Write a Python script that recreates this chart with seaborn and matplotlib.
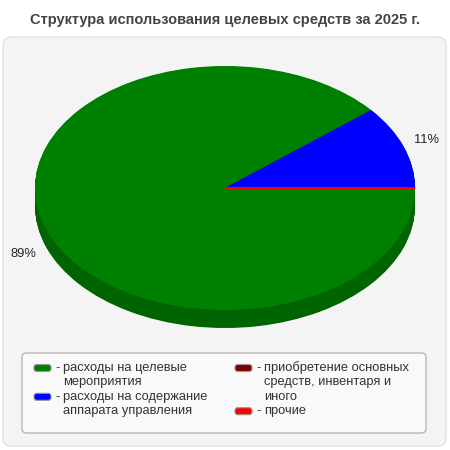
import numpy as np
import matplotlib
matplotlib.use("Agg")
import matplotlib.pyplot as plt
import seaborn as sns
from matplotlib.patches import FancyBboxPatch
from matplotlib.colors import to_rgb

# ---------------------------------------------------------
# Data
# ---------------------------------------------------------
title = "Структура использования целевых средств за 2025 г."

categories = [
    "расходы на целевые\nмероприятия",
    "расходы на содержание\nаппарата управления",
    "приобретение основных\nсредств, инвентаря и\nиного",
    "прочие",
]
shares = [89.0, 11.0, 0.01, 0.03]
colors = ["#008000", "#0000ff", "#800000", "#ff0000"]

sns.set_style("white")
plt.rcParams["font.family"] = ["Liberation Sans", "DejaVu Sans"]

W = H = 450
fig = plt.figure(figsize=(4.5, 4.5), dpi=100)
fig.patch.set_facecolor("white")


def fx(x):
    return x / W


def fy(y):
    return 1 - y / H


# panel
panel = FancyBboxPatch((fx(3), fy(446)), fx(443), 409 / H,
                       boxstyle="round,pad=0,rounding_size=0.018",
                       transform=fig.transFigure, facecolor="#f4f4f4",
                       edgecolor="#e2e2e2", linewidth=1, zorder=-10)
fig.patches.append(panel)

fig.text(0.5, fy(20), title, ha="center", va="center",
         fontsize=10.5, fontweight="bold", color="#444444")

# ---------------------------------------------------------
# Pie (pseudo 3D)
# ---------------------------------------------------------
cx_l, cx_r = 35, 415
top_y, bot_y, depth_px = 66, 310, 18
ry_px = (bot_y - top_y) / 2
depth = depth_px / ry_px

ax = fig.add_axes([fx(cx_l), fy(bot_y + depth_px), (cx_r - cx_l) / W,
                   (bot_y + depth_px - top_y) / H])
ax.patch.set_alpha(0)


def darker(c, f=0.78):
    r, g, b = to_rgb(c)
    return (r * f, g * f, b * f)


side_colors = [darker(c) for c in colors]
for t in np.linspace(depth, 0.005, 24):
    ax.pie(shares, colors=side_colors, startangle=0, counterclock=False,
           center=(0, -t), radius=1, wedgeprops=dict(linewidth=0))

wedges, _ = ax.pie(shares, colors=colors, startangle=0, counterclock=False,
                   center=(0, 0), radius=1, wedgeprops=dict(linewidth=0))
total = sum(shares)
for w, v, c in zip(wedges, shares, colors):
    if v / total < 0.01:
        w.set_edgecolor(c)
        w.set_linewidth(0.9)

# percent labels
for w, v in zip(wedges, shares):
    pct = v / total * 100
    if pct < 1:
        continue
    ang = np.deg2rad((w.theta1 + w.theta2) / 2)
    x = 1.13 * np.cos(ang)
    y = 1.15 * np.sin(ang)
    if y < 0:
        y -= depth
    ax.text(x, y, f"{pct:.0f}%", ha="center", va="center",
            fontsize=9.3, color="#222222", clip_on=False)

ax.set_aspect("auto")
ax.set_xlim(-1, 1)
ax.set_ylim(-1 - depth, 1)
ax.axis("off")

# ---------------------------------------------------------
# Legend
# ---------------------------------------------------------
lbox = FancyBboxPatch((fx(22), fy(433)), fx(404), 80 / H,
                      boxstyle="round,pad=0,rounding_size=0.01",
                      transform=fig.transFigure, facecolor="#f9f9f9",
                      edgecolor="#a8a8a8", linewidth=0.8)
fig.patches.append(lbox)

col_x = [34, 235]
line_h = 14.4
first_y = 368
per_col = 2
for i, (lab, c) in enumerate(zip(categories, colors)):
    col = i // per_col
    prev = categories[col * per_col:i]
    line_idx = sum(p.count("\n") + 1 for p in prev)
    y = first_y + line_idx * line_h
    x0 = col_x[col]
    sw = FancyBboxPatch((fx(x0), fy(y + 3.5)), fx(17), 7 / H,
                        boxstyle="round,pad=0,rounding_size=0.006",
                        transform=fig.transFigure, facecolor=c,
                        edgecolor="#999999", linewidth=0.8)
    fig.patches.append(sw)
    fig.text(fx(x0 + 21), fy(y), "-", ha="left", va="center",
             fontsize=9.3, color="#333333")
    for k, part in enumerate(lab.split("\n")):
        fig.text(fx(x0 + 29), fy(y + k * line_h), part, ha="left",
                 va="center", fontsize=9.3, color="#333333")

fig.savefig("out.png", dpi=100, facecolor="white")
